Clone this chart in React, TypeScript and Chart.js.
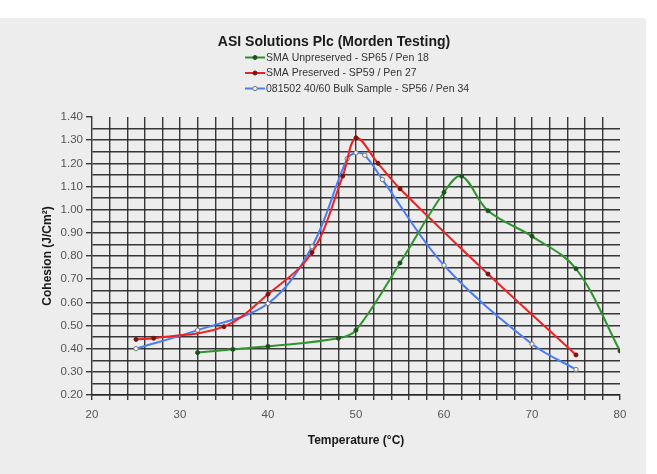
import React, { useEffect, useRef } from 'react';
import { Chart, registerables } from 'chart.js';

Chart.register(...registerables);

// ---------- text ----------
const chartTitle = 'ASI Solutions Plc (Morden Testing)';
const xAxisTitle = 'Temperature (°C)';
const yAxisTitle = 'Cohesion (J/Cm²)';

// ---------- data ----------
const unpreservedLabel = 'SMA Unpreserved - SP65 / Pen 18';
const unpreservedTemp = [32, 36, 40, 48, 50, 55, 60, 62, 65, 70, 75, 80];
const unpreservedCohesion = [0.383, 0.397, 0.41, 0.445, 0.48, 0.77, 1.075, 1.145, 0.995, 0.885, 0.745, 0.39];

const preservedLabel = 'SMA Preserved - SP59 / Pen 27';
const preservedTemp = [25, 27, 35, 40, 45, 48.5, 50, 52.5, 55, 65, 75];
const preservedCohesion = [0.44, 0.445, 0.495, 0.635, 0.815, 1.145, 1.31, 1.2, 1.09, 0.722, 0.373];

const bulkLabel = '081502 40/60 Bulk Sample - SP56 / Pen 34';
const bulkTemp = [25, 32, 40, 45, 49, 50, 51, 53, 60, 70, 75];
const bulkCohesion = [0.4, 0.48, 0.595, 0.84, 1.22, 1.245, 1.235, 1.13, 0.76, 0.42, 0.31];

// ---------- axes ----------
const xMin = 20;
const xMax = 80;
const xStep = 2;
const xLabelEvery = 10;
const yMin = 0.2;
const yMax = 1.4;
const yStep = 0.05;

const FONT = '"Liberation Sans", Arial, Helvetica, sans-serif';
const GRID = 'rgba(35,35,35,0.9)';

const toPoints = (xs: number[], ys: number[]) => xs.map((x, i) => ({ x, y: ys[i] }));

const stackedLegend = {
  id: 'stackedLegend',
  afterDraw(chart: any) {
    const ctx = chart.ctx as CanvasRenderingContext2D;
    const left = 245;
    const top = 57.5;
    const row = 15.5;
    ctx.save();
    ctx.font = `10.5px ${FONT}`;
    ctx.textBaseline = 'middle';
    ctx.textAlign = 'left';
    chart.data.datasets.forEach((ds: any, i: number) => {
      const y = top + i * row;
      ctx.strokeStyle = ds.borderColor;
      ctx.lineWidth = 2;
      ctx.beginPath();
      ctx.moveTo(left, y);
      ctx.lineTo(left + 20, y);
      ctx.stroke();
      ctx.beginPath();
      ctx.arc(left + 10, y, ds.pointRadius, 0, Math.PI * 2);
      ctx.fillStyle = ds.pointBackgroundColor;
      ctx.fill();
      ctx.lineWidth = 1;
      ctx.strokeStyle = ds.pointBorderColor;
      ctx.stroke();
      ctx.fillStyle = '#333';
      ctx.fillText(ds.label, left + 21, y + 0.5);
    });
    ctx.restore();
  },
};

export default function App() {
  const ref = useRef<HTMLCanvasElement | null>(null);

  useEffect(() => {
    document.body.style.margin = '0';
    if (!ref.current) return;
    const chart = new Chart(ref.current, {
      type: 'line',
      data: {
        datasets: [
          {
            label: unpreservedLabel,
            data: toPoints(unpreservedTemp, unpreservedCohesion),
            borderColor: '#2f932f',
            borderWidth: 2,
            pointRadius: 2,
            pointBackgroundColor: '#1e4f1e',
            pointBorderColor: '#1e4f1e',
            pointBorderWidth: 1,
            tension: 0.35,
            fill: false,
          },
          {
            label: preservedLabel,
            data: toPoints(preservedTemp, preservedCohesion),
            borderColor: '#ee2222',
            borderWidth: 2,
            pointRadius: 2,
            pointBackgroundColor: '#7a1212',
            pointBorderColor: '#7a1212',
            pointBorderWidth: 1,
            tension: 0.35,
            fill: false,
          },
          {
            label: bulkLabel,
            data: toPoints(bulkTemp, bulkCohesion),
            borderColor: '#4a7cf4',
            borderWidth: 2,
            pointRadius: 2.2,
            pointBackgroundColor: '#f4f4f4',
            pointBorderColor: '#777777',
            pointBorderWidth: 1,
            tension: 0.35,
            fill: false,
          },
        ],
      },
      options: {
        responsive: false,
        animation: false,
        layout: { padding: { top: 0, left: 48, right: 37, bottom: 0 } },
        plugins: {
          legend: { display: false },
          tooltip: { enabled: false },
          title: {
            display: true,
            text: chartTitle,
            color: '#1a1a1a',
            font: { family: FONT, size: 14, weight: 'bold' },
            padding: { top: 33.6, bottom: 66.6 },
          },
        },
        scales: {
          x: {
            type: 'linear',
            min: xMin,
            max: xMax,
            afterFit: (s: any) => { s.height = 79; },
            ticks: {
              stepSize: xStep,
              autoSkip: false,
              maxRotation: 0,
              padding: 8,
              color: '#555',
              font: { family: FONT, size: 11.5 },
              callback: (v: any) => (Math.round(v) % xLabelEvery === 0 ? String(v) : ''),
            },
            grid: {
              color: (c: any) => (c.tick && (c.tick.value === xMin || c.tick.value === xMax) ? 'rgba(0,0,0,0)' : GRID),
              lineWidth: 1.4,
              tickLength: 5,
              tickColor: GRID,
            },
            border: { color: GRID, width: 1.4 },
            title: {
              display: true,
              text: xAxisTitle,
              color: '#1a1a1a',
              font: { family: FONT, size: 12, weight: 'bold' },
              padding: { top: 0, bottom: 25.8 },
            },
          },
          y: {
            type: 'linear',
            min: yMin,
            max: yMax,
            afterFit: (s: any) => { s.width = 44; },
            ticks: {
              stepSize: yStep,
              autoSkip: false,
              padding: 3,
              color: '#555',
              font: { family: FONT, size: 11.5 },
              callback: (v: any) => (Math.round(v * 100) % 10 === 0 ? Number(v).toFixed(2) : ''),
            },
            grid: {
              color: (c: any) => (c.tick && Math.abs(c.tick.value - yMax) < 1e-6 ? 'rgba(0,0,0,0)' : GRID),
              lineWidth: 1.4,
              tickLength: 6,
              tickColor: (c: any) => (c.tick && Math.round(c.tick.value * 100) % 10 === 0 ? GRID : 'rgba(0,0,0,0)'),
            },
            border: { color: GRID, width: 1.4 },
            title: {
              display: true,
              text: yAxisTitle,
              color: '#1a1a1a',
              font: { family: FONT, size: 12, weight: 'bold' },
              padding: { top: -7.5, bottom: 0 },
            },
          },
        },
      },
      plugins: [stackedLegend],
    } as any);
    return () => chart.destroy();
  }, []);

  return (
    <div style={{ position: 'relative', width: 657, height: 474, background: '#ffffff', overflow: 'hidden' }}>
      <div style={{ position: 'absolute', left: 0, top: 18, width: 646, height: 456, background: '#ededed' }} />
      <canvas ref={ref} width={657} height={474} style={{ position: 'absolute', left: 0, top: 0, width: 657, height: 474 }} />
    </div>
  );
}
